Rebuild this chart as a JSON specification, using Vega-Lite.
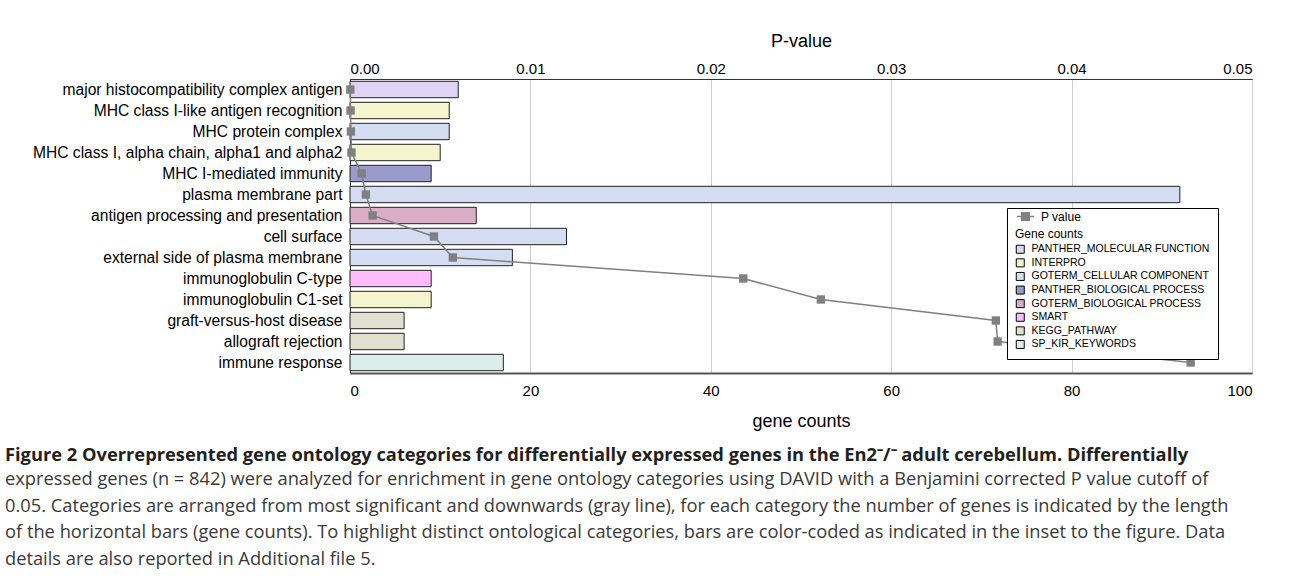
{
  "$schema": "https://vega.github.io/schema/vega-lite/v6.json",
  "width": 902,
  "height": 294,
  "padding": {"left": 5, "top": 32, "right": 5, "bottom": 5},
  "background": "white",
  "title": {
    "text": "Figure 2 Overrepresented gene ontology categories for differentially expressed genes in the En2⁻/⁻ adult cerebellum. Differentially",
    "subtitle": [
      "expressed genes (n = 842) were analyzed for enrichment in gene ontology categories using DAVID with a Benjamini corrected P value cutoff of",
      "0.05. Categories are arranged from most significant and downwards (gray line), for each category the number of genes is indicated by the length",
      "of the horizontal bars (gene counts). To highlight distinct ontological categories, bars are color-coded as indicated in the inset to the figure. Data",
      "details are also reported in Additional file 5."
    ],
    "orient": "bottom",
    "anchor": "start",
    "frame": "group",
    "dx": -345,
    "offset": 17,
    "font": "Open Sans",
    "fontSize": 18.3,
    "fontWeight": "bold",
    "color": "#231f20",
    "subtitleFont": "Open Sans",
    "subtitleFontSize": 18.3,
    "subtitleColor": "#3a3a3a",
    "subtitleLineHeight": 26.5,
    "subtitlePadding": 6
  },
  "data": {
    "values": [
      {"term": "major histocompatibility complex antigen", "db": "PANTHER_MOLECULAR FUNCTION", "count": 12, "p": 0.00002},
      {"term": "MHC class I-like antigen recognition", "db": "INTERPRO", "count": 11, "p": 0.00003},
      {"term": "MHC protein complex", "db": "GOTERM_CELLULAR COMPONENT", "count": 11, "p": 0.00005},
      {"term": "MHC class I, alpha chain, alpha1 and alpha2", "db": "INTERPRO", "count": 10, "p": 0.00008},
      {"term": "MHC I-mediated immunity", "db": "PANTHER_BIOLOGICAL PROCESS", "count": 9, "p": 0.00065},
      {"term": "plasma membrane part", "db": "GOTERM_CELLULAR COMPONENT", "count": 92, "p": 0.00088},
      {"term": "antigen processing and presentation", "db": "GOTERM_BIOLOGICAL PROCESS", "count": 14, "p": 0.00125},
      {"term": "cell surface", "db": "GOTERM_CELLULAR COMPONENT", "count": 24, "p": 0.00465},
      {"term": "external side of plasma membrane", "db": "GOTERM_CELLULAR COMPONENT", "count": 18, "p": 0.0057},
      {"term": "immunoglobulin C-type", "db": "SMART", "count": 9, "p": 0.0218},
      {"term": "immunoglobulin C1-set", "db": "INTERPRO", "count": 9, "p": 0.0261},
      {"term": "graft-versus-host disease", "db": "KEGG_PATHWAY", "count": 6, "p": 0.0358},
      {"term": "allograft rejection", "db": "KEGG_PATHWAY", "count": 6, "p": 0.0359},
      {"term": "immune response", "db": "SP_KIR_KEYWORDS", "count": 17, "p": 0.0466}
    ]
  },
  "encoding": {
    "y": {
      "field": "term",
      "type": "nominal",
      "sort": null,
      "scale": {"paddingInner": 0.22, "paddingOuter": 0.11},
      "axis": {
        "title": null,
        "labelFont": "Liberation Sans",
        "labelFontSize": 15.6,
        "labelColor": "#000",
        "labelPadding": 8,
        "ticks": false,
        "tickSize": 0,
        "domainColor": "#333",
        "labelLimit": 400
      }
    }
  },
  "layer": [
    {
      "mark": {"type": "bar", "stroke": "#222", "strokeWidth": 1},
      "encoding": {
        "x": {
          "field": "count",
          "type": "quantitative",
          "scale": {"domain": [0, 100], "nice": false},
          "axis": {
            "title": "gene counts",
            "orient": "bottom",
            "values": [0, 20, 40, 60, 80, 100],
            "labelFont": "Liberation Sans",
            "labelFontSize": 15,
            "labelColor": "#000",
            "labelPadding": 10,
            "ticks": false,
            "tickSize": 0,
            "domainColor": "#555",
            "domainWidth": 2,
            "grid": true,
            "gridColor": "#cfcfcf",
            "titleFont": "Liberation Sans",
            "titleFontSize": 18,
            "titleFontWeight": "normal",
            "titleColor": "#000",
            "titlePadding": 14
          }
        },
        "fill": {
          "field": "db",
          "type": "nominal",
          "scale": {
            "domain": ["PANTHER_MOLECULAR FUNCTION", "INTERPRO", "GOTERM_CELLULAR COMPONENT", "PANTHER_BIOLOGICAL PROCESS", "GOTERM_BIOLOGICAL PROCESS", "SMART", "KEGG_PATHWAY", "SP_KIR_KEYWORDS"],
            "range": ["#E1D3F4", "#F5F5CD", "#D4DDF1", "#9B9BCB", "#D8AEC7", "#FFBCFF", "#E0E0D1", "#DAEDE9"]
          },
          "legend": {
            "title": ["", "Gene counts"],
            "orient": "none",
            "legendX": 657,
            "legendY": 129,
            "padding": 8,
            "fillColor": "white",
            "strokeColor": "#000",
            "titleFont": "Liberation Sans",
            "titleFontSize": 12,
            "titleFontWeight": "normal",
            "titleColor": "#000",
            "titleLineHeight": 13,
            "titlePadding": 3,
            "labelFont": "Liberation Sans",
            "labelFontSize": 10.5,
            "labelColor": "#000",
            "labelOffset": 6,
            "rowPadding": 0.6,
            "symbolType": "square",
            "symbolSize": 64,
            "symbolStrokeColor": "#000",
            "symbolStrokeWidth": 1,
            "labelLimit": 300
          }
        }
      }
    },
    {
      "encoding": {
        "x": {
          "field": "p",
          "type": "quantitative",
          "scale": {"domain": [0, 0.05], "nice": false},
          "axis": {
            "title": "P-value",
            "orient": "top",
            "values": [0, 0.01, 0.02, 0.03, 0.04, 0.05],
            "format": ".2f",
            "labelFont": "Liberation Sans",
            "labelFontSize": 15,
            "labelColor": "#000",
            "labelPadding": 3,
            "ticks": false,
            "tickSize": 0,
            "domainColor": "#333",
            "grid": false,
            "titleFont": "Liberation Sans",
            "titleFontSize": 18,
            "titleFontWeight": "normal",
            "titleColor": "#000",
            "titlePadding": 11
          }
        }
      },
      "layer": [
        {
          "mark": {"type": "line", "strokeWidth": 1.5},
          "encoding": {
            "stroke": {
              "datum": "P value",
              "scale": {"range": ["#808080"]},
              "legend": {
                "title": null,
                "orient": "none",
                "legendX": 666,
                "legendY": 128,
                "padding": 0,
                "labelFont": "Liberation Sans",
                "labelFontSize": 12,
                "labelColor": "#000",
                "labelOffset": 6,
                "symbolType": "M-1,0H1M-0.45,-0.45H0.45V0.45H-0.45Z",
                "symbolSize": 289,
                "symbolStrokeWidth": 1.5,
                "symbolFillColor": "#808080",
                "encode": {"symbols": {"update": {"fill": {"value": "#808080"}, "stroke": {"value": "#808080"}}}}
              }
            }
          }
        },
        {
          "mark": {"type": "square", "size": 70, "color": "#808080", "opacity": 1},
          "encoding": {}
        }
      ]
    }
  ],
  "resolve": {"scale": {"x": "independent"}, "axis": {"x": "independent"}},
  "config": {
    "view": {"stroke": "#333"},
    "font": "Liberation Sans"
  }
}
